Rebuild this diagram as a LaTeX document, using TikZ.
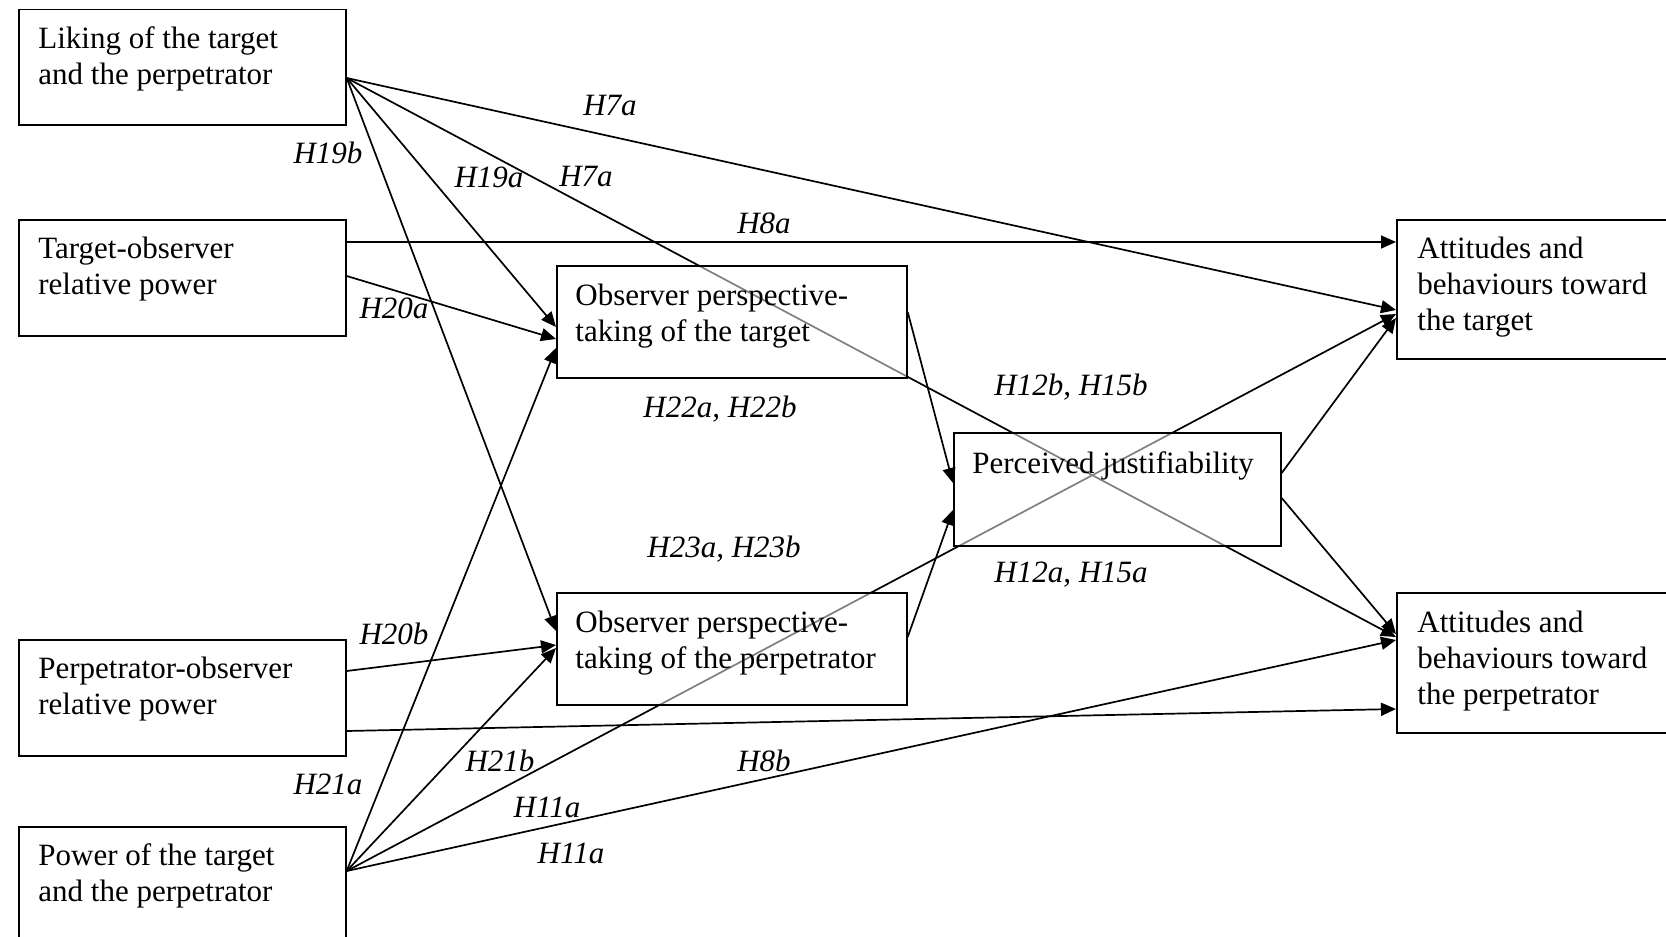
\documentclass[tikz,border=0pt]{standalone}
\usepackage{fontspec}
\setmainfont{Liberation Serif}
\usetikzlibrary{arrows.meta,backgrounds}
\newcommand{\boxlines}[1]{\parbox[t]{200pt}{\raggedright #1}}
\begin{document}
\begin{tikzpicture}[x=0.5pt,y=-0.5pt,
  box/.style={draw=black, line width=0.85pt, fill=white, fill opacity=0.5,
    rectangle, inner sep=0pt, anchor=north west},
  boxtext/.style={anchor=base west, inner sep=0pt,
    font=\fontsize{15.5}{18}\selectfont},
  hyp/.style={inner sep=0pt, font=\fontsize{15.5}{18}\selectfont\itshape},
  link/.style={line width=0.85pt, -{Triangle[length=7.5pt,width=6.5pt]}}
]
\useasboundingbox (0,0) rectangle (1666,937);

% ---- variables (boxes) ----
\node[box, minimum width=163.5pt, minimum height=57.75pt] (liking)  at (18,8.5) {};
\node[box, minimum width=163.5pt, minimum height=58pt]    (tgtpow)  at (18,219) {};
\node[box, minimum width=163.5pt, minimum height=58pt]    (perpow)  at (18,639) {};
\node[box, minimum width=163.5pt, minimum height=70pt]    (power)   at (18,826) {};
\node[box, minimum width=175pt,   minimum height=56pt]    (optt)    at (556,265) {};
\node[box, minimum width=175pt,   minimum height=56pt]    (optp)    at (556,592) {};
\node[box, minimum width=163.5pt, minimum height=56.5pt]  (just)    at (953,432) {};
\node[box, minimum width=150pt,   minimum height=69.5pt]  (atttgt)  at (1396,219) {};
\node[box, minimum width=150pt,   minimum height=70pt]    (attperp) at (1396,592) {};

% ---- box texts ----
\node[boxtext] at ([shift={(20,39.5)}]liking.north west)  {\boxlines{Liking of the target\\and the perpetrator}};
\node[boxtext] at ([shift={(20,39.5)}]tgtpow.north west)  {\boxlines{Target-observer\\relative power}};
\node[boxtext] at ([shift={(20,39.5)}]perpow.north west)  {\boxlines{Perpetrator-observer\\relative power}};
\node[boxtext] at ([shift={(20,39.5)}]power.north west)   {\boxlines{Power of the target\\and the perpetrator}};
\node[boxtext] at ([shift={(19,40)}]optt.north west)      {\boxlines{Observer perspective-\\taking of the target}};
\node[boxtext] at ([shift={(19,40)}]optp.north west)      {\boxlines{Observer perspective-\\taking of the perpetrator}};
\node[boxtext] at ([shift={(19,41)}]just.north west)      {\boxlines{Perceived justifiability}};
\node[boxtext] at ([shift={(21,39.5)}]atttgt.north west)  {\boxlines{Attitudes and\\behaviours toward\\the target}};
\node[boxtext] at ([shift={(21,40)}]attperp.north west)   {\boxlines{Attitudes and\\behaviours toward\\the perpetrator}};

% ---- connectors (behind the boxes) ----
\begin{scope}[on background layer]
  \coordinate (likeout)  at ([shift={(0,69.5)}]liking.north east);
  \coordinate (powout)   at ([shift={(0,45)}]power.north east);

  % from liking
  \draw[link] (likeout) -- ([shift={(0,91)}]atttgt.north west);
  \draw[link] (likeout) -- ([shift={(0,45)}]attperp.north west);
  \draw[link] (likeout) -- ([shift={(0,62)}]optt.north west);
  \draw[link] (likeout) -- ([shift={(0,39)}]optp.north west);

  % from target-observer relative power
  \draw[link] ([shift={(0,23)}]tgtpow.north east) -- ([shift={(0,23)}]atttgt.north west);
  \draw[link] ([shift={(0,57)}]tgtpow.north east) -- ([shift={(0,74)}]optt.north west);

  % from perpetrator-observer relative power
  \draw[link] ([shift={(0,32)}]perpow.north east) -- ([shift={(0,53)}]optp.north west);
  \draw[link] ([shift={(0,92)}]perpow.north east) -- ([shift={(0,117)}]attperp.north west);

  % from power
  \draw[link] (powout) -- ([shift={(0,83)}]optt.north west);
  \draw[link] (powout) -- ([shift={(0,56)}]optp.north west);
  \draw[link] (powout) -- ([shift={(0,95)}]atttgt.north west);
  \draw[link] (powout) -- ([shift={(0,48)}]attperp.north west);

  % perspective-taking to justifiability
  \draw[link] ([shift={(0,47)}]optt.north east) -- ([shift={(0,51)}]just.north west);
  \draw[link] ([shift={(0,45)}]optp.north east) -- ([shift={(0,78)}]just.north west);

  % justifiability to outcomes
  \draw[link] ([shift={(0,41)}]just.north east) -- ([shift={(0,99)}]atttgt.north west);
  \draw[link] ([shift={(0,66)}]just.north east) -- ([shift={(0,42)}]attperp.north west);
\end{scope}

% ---- hypothesis labels ----
\node[hyp] (l7a)   at (610,106) {H7a};
\node[hyp] (l19b)  at (328,153) {H19b};
\node[hyp] (l19a)  at (489,177) {H19a};
\node[hyp] (l7b)   at (586,177) {H7a};
\node[hyp] (l8a)   at (764,223) {H8a};
\node[hyp] (l20a)  at (394,308) {H20a};
\node[hyp] (l22)   at (720,409) {H22a, H22b};
\node[hyp] (l12b)  at (1071,387) {H12b, H15b};
\node[hyp] (l23)   at (724,549) {H23a, H23b};
\node[hyp] (l12a)  at (1071,575) {H12a, H15a};
\node[hyp] (l20b)  at (394,634) {H20b};
\node[hyp] (l21a)  at (328,784) {H21a};
\node[hyp] (l21b)  at (500,761) {H21b};
\node[hyp] (l8b)   at (764,761) {H8b};
\node[hyp] (l11a)  at (547,807) {H11a};
\node[hyp] (l11b)  at (571,853) {H11a};
\end{tikzpicture}
\end{document}
